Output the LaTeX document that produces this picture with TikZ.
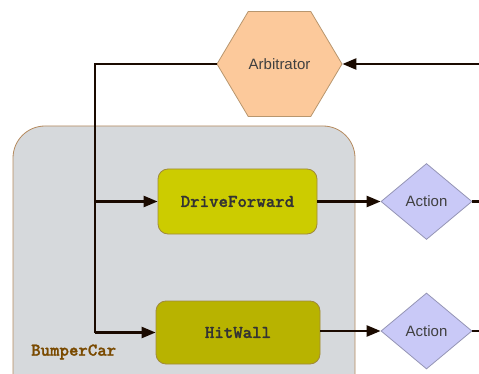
\documentclass[tikz,border=0pt]{standalone}
\usepackage{fontspec}
\setmainfont{Liberation Sans}
\newfontfamily\codeb[FakeBold=1.2]{lmmonolt10-bold.otf}
\usetikzlibrary{shapes.geometric,arrows.meta}
\definecolor{contfill}{HTML}{D6D9DC}
\definecolor{contdraw}{HTML}{B58A5E}
\definecolor{dfill}{HTML}{CCCC00}
\definecolor{hfill}{HTML}{B8B300}
\definecolor{bdraw}{HTML}{A08A3A}
\definecolor{hexfill}{HTML}{FCC99B}
\definecolor{hexdraw}{HTML}{B8966E}
\definecolor{dmfill}{HTML}{C9C9F7}
\definecolor{dmdraw}{HTML}{9595B5}
\definecolor{brown}{HTML}{7A4A00}
\definecolor{wire}{HTML}{1A0A00}
\tikzset{
  x=1pt,y=-1pt,
  codefont/.style={font=\codeb\fontsize{18}{20}\selectfont},
  behave/.style={draw=bdraw,line width=0.8pt,rounded corners=10pt,codefont,text=black!80},
  hexa/.style={regular polygon,regular polygon sides=6,shape border rotate=0,draw=hexdraw,fill=hexfill,line width=0.8pt,minimum size=125pt,inner sep=0pt},
  lbl/.style={font=\fontsize{15}{17}\selectfont,text=black!75},
  act/.style={diamond,draw=dmdraw,fill=dmfill,line width=0.8pt,minimum width=91pt,minimum height=76pt,inner sep=0pt,aspect=1.2,lbl},
  wireline/.style={draw=wire,line width=2.5pt},
  arr/.style={wireline,-{Triangle[length=14pt,width=11pt]}},
}
\begin{document}
\begin{tikzpicture}
\useasboundingbox (0,0) rectangle (479,374);
% container
\draw[draw=contdraw,fill=contfill,line width=0.8pt,rounded corners=32pt] (13,126) rectangle (355,410);
\node[codefont,text=brown,anchor=west,inner sep=0pt] (bc) at (31,352) {BumperCar};
% nodes
\node[hexa,yscale=0.97] (arb) at (279.5,64) {};
\node[lbl] (arbt) at (279.5,64) {Arbitrator};
\node[behave,fill=dfill,minimum width=159pt,minimum height=65pt] (df) at (237.5,201.5) {DriveForward};
\node[behave,fill=hfill,minimum width=164pt,minimum height=63pt] (hw) at (238,332.5) {HitWall};
\node[act] (a1) at (426.5,201.5) {Action};
\node[act] (a2) at (426.5,331) {Action};
% edge coordinates
\coordinate (e0) at (479,64);
\coordinate (e1) at (479,201.5);
\coordinate (e2) at (479,331);
\coordinate (bx) at (95,64);
% connectors
\draw[wireline] (arb.west) -- (bx) -- (bx |- hw.west);
\draw[arr] (bx |- df.west) -- (df.west);
\draw[arr] (bx |- hw.west) -- (hw.west);
\draw[arr] (df.east) -- (a1.west);
\draw[arr] (hw.east |- a2.west) -- (a2.west);
\draw[wireline] (a1.east) -- (e1);
\draw[wireline] (a2.east) -- (e2);
\draw[arr] (e0) -- (arb.east);
\end{tikzpicture}
\end{document}
